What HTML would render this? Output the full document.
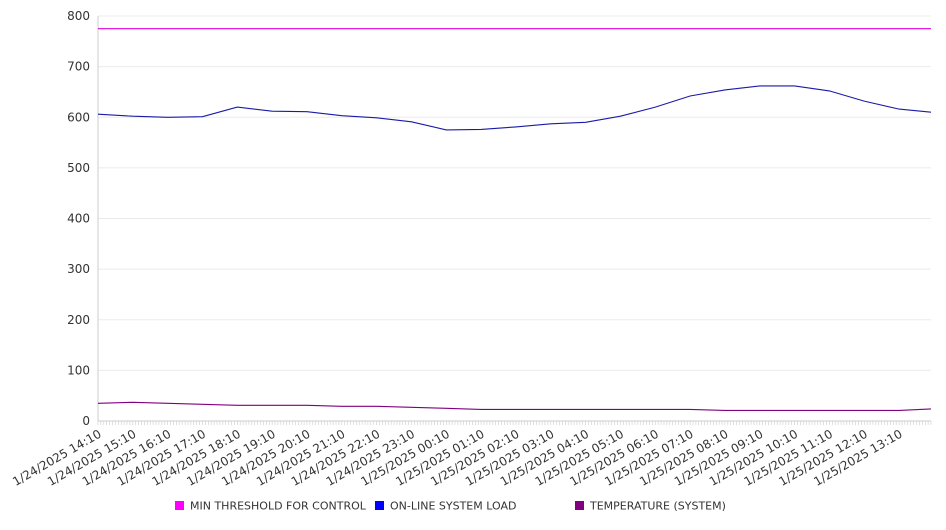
<!DOCTYPE html>
<html><head><meta charset="utf-8"><style>
body{margin:0;background:#fff;font-family:"DejaVu Sans","Liberation Sans",sans-serif;}
svg text{fill:#333;}
</style></head><body>
<svg id="chart" width="946" height="526" xmlns="http://www.w3.org/2000/svg">
<g id="grid"></g>
<g id="yaxis"></g>
<g id="xaxis"></g>
<g id="series"></g>
<g id="legend"></g>
</svg>
<script>
const xLabels=["1/24/2025 14:10","1/24/2025 15:10","1/24/2025 16:10","1/24/2025 17:10","1/24/2025 18:10","1/24/2025 19:10","1/24/2025 20:10","1/24/2025 21:10","1/24/2025 22:10","1/24/2025 23:10","1/25/2025 00:10","1/25/2025 01:10","1/25/2025 02:10","1/25/2025 03:10","1/25/2025 04:10","1/25/2025 05:10","1/25/2025 06:10","1/25/2025 07:10","1/25/2025 08:10","1/25/2025 09:10","1/25/2025 10:10","1/25/2025 11:10","1/25/2025 12:10","1/25/2025 13:10"];
const yTicks=[0,100,200,300,400,500,600,700,800];
const timesMin=[0,60,120,180,240,300,360,420,480,540,600,660,720,780,840,900,960,1020,1080,1140,1200,1260,1320,1380,1435];
const thresholdValues=[775,775,775,775,775,775,775,775,775,775,775,775,775,775,775,775,775,775,775,775,775,775,775,775,775];
const loadValues=[606,602,600,601,620,612,611,603,599,591,575,576,581,587,590,602,620,642,654,662,662,652,632,616,610];
const tempValues=[35,37,35,33,31,31,31,29,29,27,25,23,23,23,23,23,23,23,21,21,21,21,21,21,24];
const NS="http://www.w3.org/2000/svg";
const X0=98,X1=931,Y0=421,Y1=16,TMAX=1435;
const xs=t=>X0+(t/TMAX)*(X1-X0);
const ys=v=>Y0-(v/800)*(Y0-Y1);
function mk(tag,attrs,parent){const e=document.createElementNS(NS,tag);for(const k in attrs)e.setAttribute(k,attrs[k]);parent.appendChild(e);return e;}
const grid=document.getElementById('grid'),ya=document.getElementById('yaxis'),xa=document.getElementById('xaxis'),ser=document.getElementById('series'),leg=document.getElementById('legend');
yTicks.forEach(v=>{
 const l=mk('line',{x1:X0,x2:X1,y1:ys(v),y2:ys(v),stroke:v===0?'#ccc':'#ebebeb'},grid);
 
 
 const t=mk('text',{x:90,y:ys(v)+4,'text-anchor':'end','font-size':12},ya);
 t.textContent=v;
 
 
});
const ax=mk('line',{x1:X0,x2:X0,y1:Y1,y2:Y0,stroke:'#ccc'},ya);


for(let m=0;m<=TMAX;m+=5){const tk=mk('line',{x1:xs(m),x2:xs(m),y1:Y0,y2:Y0+4,stroke:'#ccc','stroke-width':0.6},xa);
 
 }
xLabels.forEach((s,i)=>{
 const x=xs(i*60),y=Y0+8;
 const t=mk('text',{x:x,y:y,'text-anchor':'end','font-size':12,transform:`rotate(-30 ${x} ${y})`,dy:'0.7em'},xa);
 t.textContent=s;
 
 
});
function line(vals,color,name){
 const d=vals.map((v,i)=>(i?'L':'M')+xs(timesMin[i]).toFixed(1)+','+ys(v).toFixed(1)).join('');
 const p=mk('path',{d:d,fill:'none',stroke:color,'stroke-width':1.1},ser);
 
 
}
line(thresholdValues,'#e000e0','min-threshold-line');
line(loadValues,'#1a1aa8','online-system-load-line');
line(tempValues,'#800080','temperature-line');
[["MIN THRESHOLD FOR CONTROL","#ff00ff",175],["ON-LINE SYSTEM LOAD","#0000ff",375],["TEMPERATURE (SYSTEM)","#800080",575]].forEach(([s,c,x])=>{
 const g=mk('g',{},leg);
 
 
 mk('rect',{x:x,y:501,width:9,height:9,fill:c},g);
 const t=mk('text',{x:x+15,y:509.5,'font-size':11},g);
 t.textContent=s;
});
</script>
</body></html>
